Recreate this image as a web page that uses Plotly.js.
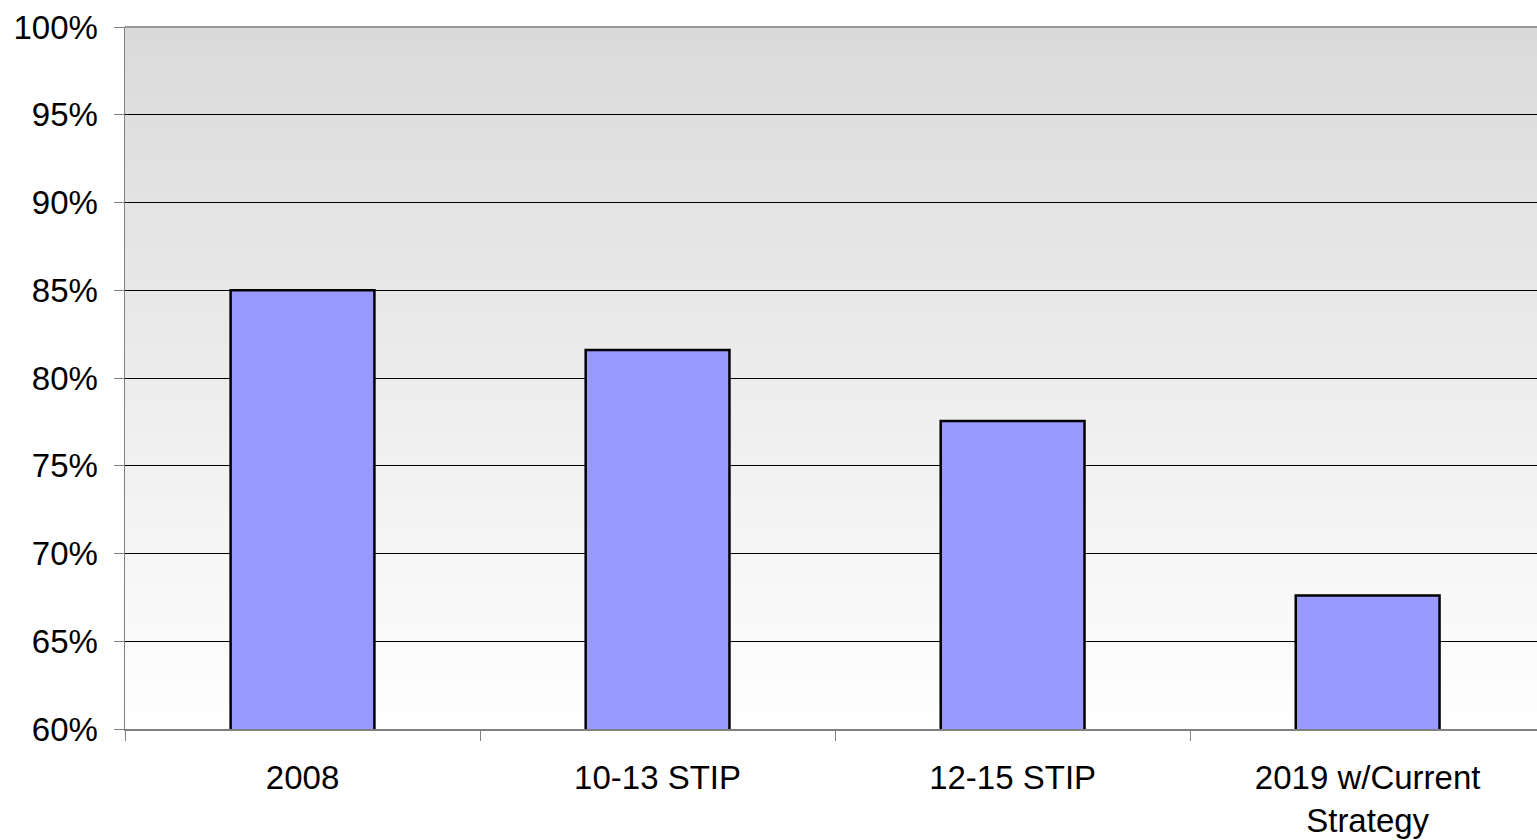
<!DOCTYPE html>
<html>
<head>
<meta charset="utf-8">
<script src="https://cdn.plot.ly/plotly-3.0.1.min.js"></script>
<style>html,body{margin:0;padding:0;background:#fff;}#chart{width:1537px;height:840px;}</style>
</head>
<body>
<div id="chart"></div>
<script>
const categories = ["2008", "10-13 STIP", "12-15 STIP", "2019 w/Current<br>Strategy"];
const values = [0.85, 0.816, 0.7755, 0.676];

// background gradient stripes (decoration, paper coordinates)
const bgShapes = [];
const NSTRIPE = 60;
const gradTop = [218, 218, 218], gradBot = [255, 255, 255];
for (let i = 0; i < NSTRIPE; i++) {
  const t = (i + 0.5) / NSTRIPE; // 0 bottom -> 1 top
  const c = gradBot.map((b, k) => Math.round(b + (gradTop[k] - b) * t));
  bgShapes.push({
    type: 'rect', xref: 'paper', yref: 'paper', layer: 'below',
    x0: 0, x1: 1, y0: i / NSTRIPE, y1: (i + 1) / NSTRIPE + 0.001,
    fillcolor: `rgb(${c[0]},${c[1]},${c[2]})`, line: {width: 0}
  });
}
// top border of plot area
bgShapes.push({
  type: 'line', xref: 'paper', yref: 'paper', layer: 'above',
  x0: 0, x1: 1, y0: 1, y1: 1, line: {color: '#808080', width: 1.5}
});

const trace = {
  type: 'bar', x: categories, y: values, width: 0.405,
  marker: {color: '#9999ff', line: {color: '#000000', width: 2.5}},
  hoverinfo: 'skip'
};

const layout = {
  width: 1537, height: 840,
  margin: {l: 125, r: 0, t: 27, b: 111},
  paper_bgcolor: '#ffffff', plot_bgcolor: 'rgba(0,0,0,0)',
  font: {family: 'Liberation Sans, Arial, sans-serif', size: 33, color: '#000'},
  showlegend: false,
  shapes: bgShapes,
  xaxis: {
    type: 'category', range: [-0.5, 3.477],
    showline: true, linecolor: '#808080', linewidth: 1.5,
    ticks: 'outside', tickson: 'boundaries', ticklen: 10, tickcolor: '#808080', tickwidth: 1,
    showgrid: false, tickfont: {size: 33}, ticklabelstandoff: 19, fixedrange: true
  },
  yaxis: {
    range: [0.6, 1.0], dtick: 0.05, tick0: 0.6, tickformat: '.0%',
    showline: true, linecolor: '#808080', linewidth: 1.5, mirror: false,
    ticks: 'outside', ticklen: 10, tickcolor: '#808080', tickwidth: 1,
    showgrid: true, gridcolor: '#000000', gridwidth: 1,
    zeroline: false, ticklabelstandoff: 9, tickfont: {size: 33}, fixedrange: true
  }
};

Plotly.newPlot('chart', [trace], layout, {displayModeBar: false, staticPlot: true});
</script>
</body>
</html>
